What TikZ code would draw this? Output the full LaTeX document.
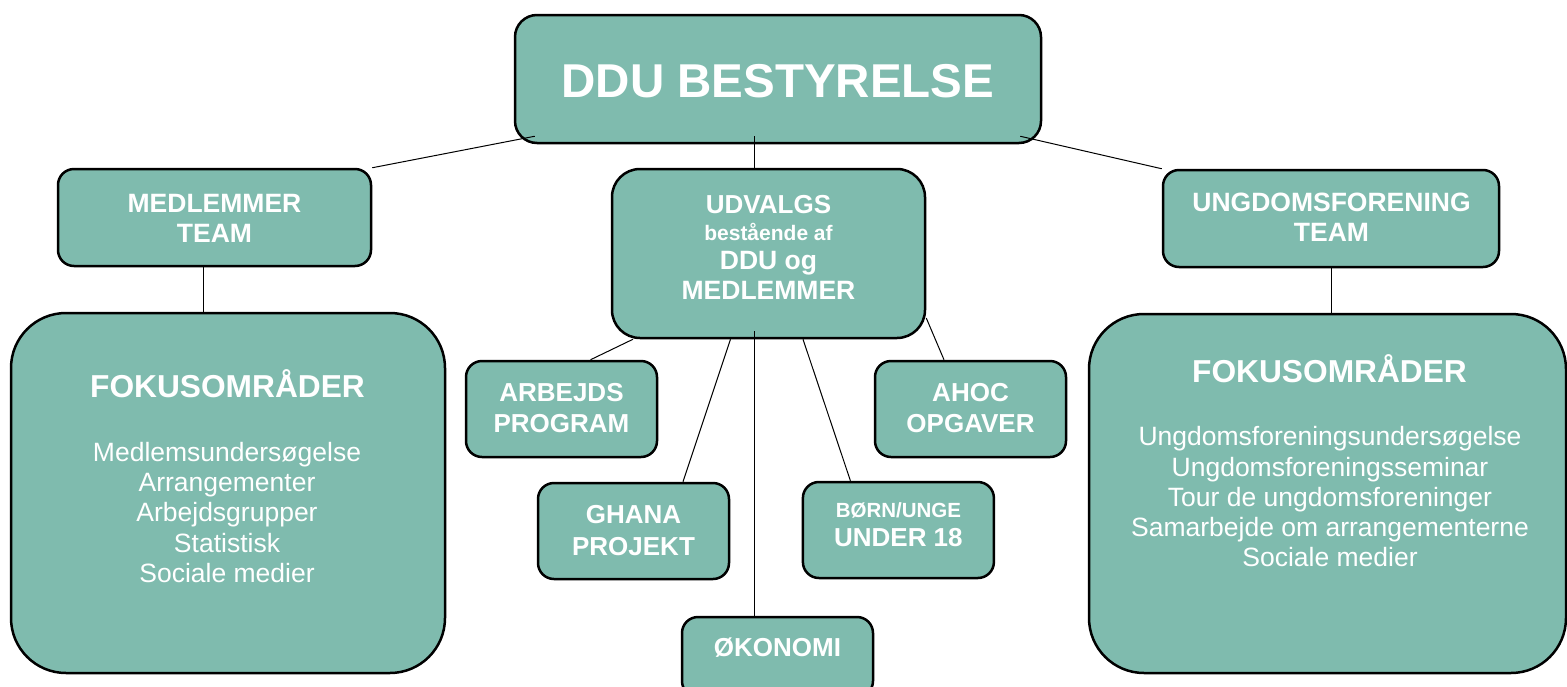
\documentclass[tikz,border=0pt]{standalone}
\usepackage{fontspec}
\setmainfont{Liberation Sans}
\definecolor{boxfill}{RGB}{127,187,174}
\begin{document}
\begin{tikzpicture}[x=1pt,y=-1pt,
  box/.style={draw=black, line width=2.5pt, fill=boxfill, rounded corners=16pt, inner sep=0pt},
  conn/.style={line width=1pt, draw=black},
  hd/.style={text=white, font=\bfseries\fontsize{26.5}{30}\selectfont, anchor=base, inner sep=0pt},
  sm/.style={text=white, font=\bfseries\fontsize{20.5}{24}\selectfont, anchor=base, inner sep=0pt},
  it/.style={text=white, font=\fontsize{26.5}{30}\selectfont, anchor=base, inner sep=0pt}]
\useasboundingbox (0,0) rectangle (1567,686);
\clip (0,0) rectangle (1567,686);

% connectors (drawn first, boxes on top)
\coordinate (ddu-c) at (778,79);
% boxes
\node[box, minimum width=526pt, minimum height=128pt, rounded corners=22pt] (ddu) at (778,79) {};
\node[box, minimum width=313pt, minimum height=97pt] (med) at (214.5,217.5) {};
\node[box, minimum width=313pt, minimum height=169pt, rounded corners=28pt] (udv) at (768.5,253.5) {};
\node[box, minimum width=336pt, minimum height=97pt] (ung) at (1331,218.5) {};
\node[box, minimum width=434pt, minimum height=360pt, rounded corners=55pt] (fok1) at (228,493) {};
\node[box, minimum width=477pt, minimum height=359pt, rounded corners=55pt] (fok2) at (1327.5,493.5) {};
\node[box, minimum width=191pt, minimum height=96pt] (arb) at (561.5,409) {};
\node[box, minimum width=191pt, minimum height=96pt] (gha) at (633.5,531) {};
\node[box, minimum width=191pt, minimum height=80pt] (oko) at (777.5,657) {};
\node[box, minimum width=191pt, minimum height=96pt] (bor) at (898.4,530) {};
\node[box, minimum width=191pt, minimum height=96pt] (aho) at (970.5,409) {};

% connectors
\draw[conn] ([xshift=21pt,yshift=8pt]ddu.south west) -- (med.north east);
\draw[conn] ([xshift=-24pt,yshift=8pt]ddu.south) -- ([xshift=-14.5pt]udv.north);
\draw[conn] ([xshift=-22pt,yshift=8pt]ddu.south east) -- (ung.north west);
\draw[conn] ([xshift=-11.5pt]med.south) -- ([xshift=-25pt]fok1.north);
\draw[conn] (ung.south) -- (ung.south |- fok2.north);
\draw[conn] ([xshift=-135.5pt]udv.south) -- ([xshift=29pt]arb.north);
\draw[conn] ([xshift=-38pt]udv.south) -- ([xshift=49.5pt]gha.north);
\draw[conn] ([xshift=-14pt,yshift=8pt]udv.south) -- ([xshift=-23pt]oko.north);
\draw[conn] ([xshift=34.5pt]udv.south) -- ([xshift=-48pt]bor.north);
\draw[conn] ([yshift=-64.5pt]udv.east) -- ([xshift=-26.5pt]aho.north);

% texts
\node[hd, font=\bfseries\fontsize{47.5}{50}\selectfont] (ddu-t) at (778,97) {DDU BESTYRELSE};
\node[hd] (med-t1) at (214.5,212.7) {MEDLEMMER};
\node[hd] (med-t2) at (214.5,242.7) {TEAM};
\node[hd, font=\bfseries\fontsize{26}{30}\selectfont] (udv-t1) at (768.5,213.3) {UDVALGS};
\node[sm, font=\bfseries\fontsize{21}{24}\selectfont] (udv-t2) at (768.5,240) {bestående af};
\node[hd] (udv-t3) at (768.5,269) {DDU og};
\node[hd] (udv-t4) at (768.5,299.3) {MEDLEMMER};
\node[hd] (ung-t1) at (1331.5,211.7) {UNGDOMSFORENING};
\node[hd] (ung-t2) at (1331.5,241.7) {TEAM};
\node[hd, font=\bfseries\fontsize{26}{30}\selectfont] (arb-t1) at (561.5,401.7) {ARBEJDS};
\node[hd, font=\bfseries\fontsize{26}{30}\selectfont] (arb-t2) at (561.5,432.7) {PROGRAM};
\node[hd, font=\bfseries\fontsize{26}{30}\selectfont] (aho-t1) at (970.5,401.7) {AHOC};
\node[hd, font=\bfseries\fontsize{26}{30}\selectfont] (aho-t2) at (970.5,432.7) {OPGAVER};
\node[hd, font=\bfseries\fontsize{26}{30}\selectfont] (gha-t1) at (633.5,523.3) {GHANA};
\node[hd, font=\bfseries\fontsize{26}{30}\selectfont] (gha-t2) at (633.5,555) {PROJEKT};
\node[sm] (bor-t1) at (898.4,517.7) {BØRN/UNGE};
\node[hd, font=\bfseries\fontsize{26}{30}\selectfont] (bor-t2) at (898.4,546.7) {UNDER 18};
\node[hd, font=\bfseries\fontsize{26}{30}\selectfont] (oko-t) at (777.5,656) {ØKONOMI};

\node[hd, font=\bfseries\fontsize{31.7}{34}\selectfont] (fok1-t) at (227.5,397.7) {FOKUSOMRÅDER};
\foreach \t [count=\i] in {Medlemsundersøgelse, Arrangementer, Arbejdsgrupper, Statistisk, Sociale medier}
  \node[it] (fa\i) at (227,{461+30.4*(\i-1)}) {\t};

\node[hd, font=\bfseries\fontsize{31.7}{34}\selectfont] (fok2-t) at (1329.5,382.7) {FOKUSOMRÅDER};
\foreach \t [count=\i] in {Ungdomsforeningsundersøgelse, Ungdomsforeningsseminar, Tour de ungdomsforeninger, Samarbejde om arrangementerne, Sociale medier}
  \node[it] (fb\i) at (1330,{445.7+30.3*(\i-1)}) {\t};
\end{tikzpicture}
\end{document}
